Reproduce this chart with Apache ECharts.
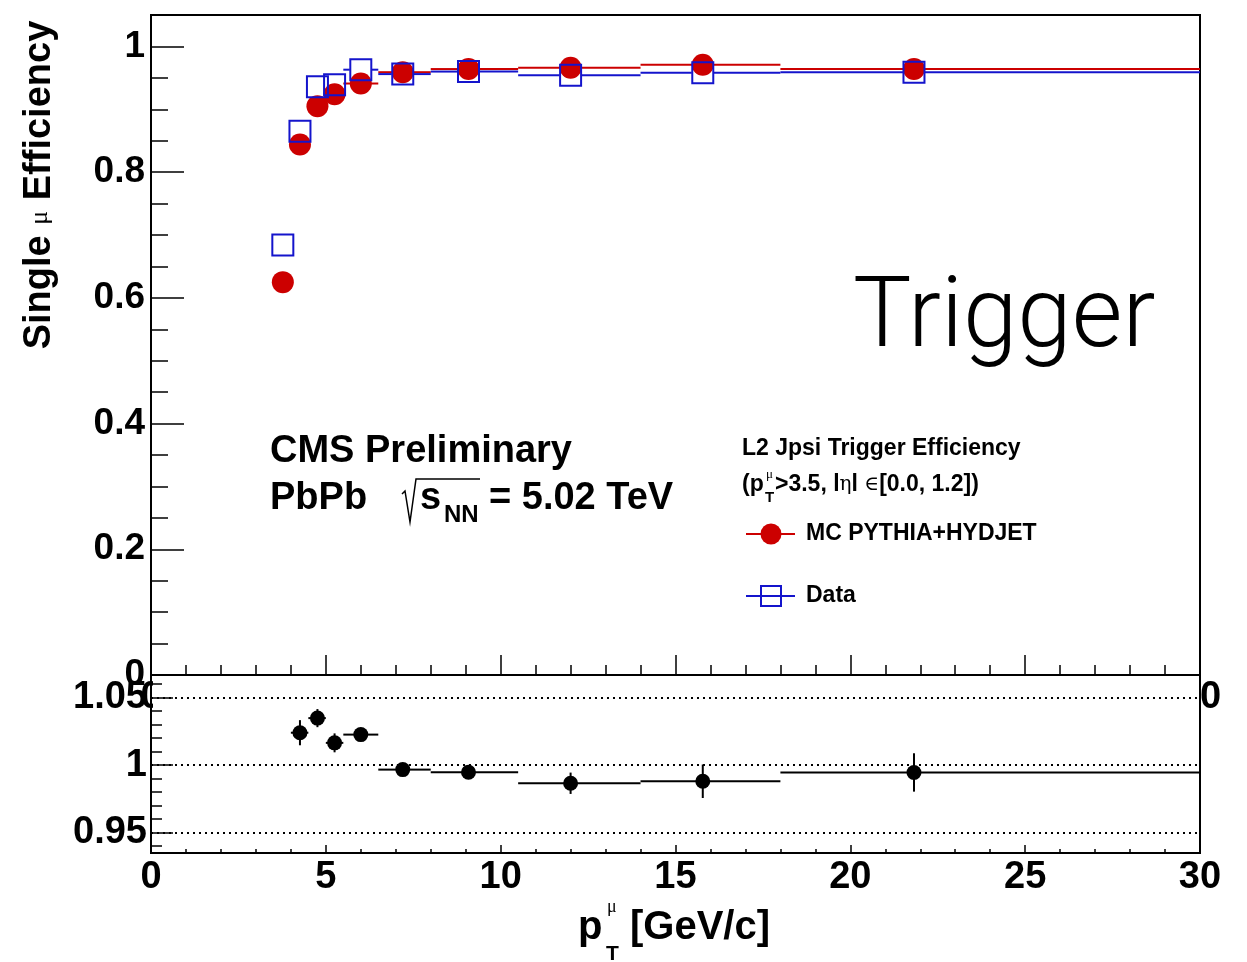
<!DOCTYPE html>
<html><head><meta charset="utf-8">
<script src="https://cdn.jsdelivr.net/npm/echarts@6/dist/echarts.min.js"></script>
<style>html,body{margin:0;padding:0;background:#fff}#c{width:1247px;height:962px}</style>
</head><body><div id="c"></div>
<script>
// ---- data ----
const ptMean   = [3.77, 4.26, 4.76, 5.25, 6.0, 7.2, 9.08, 12.0, 15.78, 21.82];
const binLo    = [3.5, 4.0, 4.5, 5.0, 5.5, 6.5, 8.0, 10.5, 14.0, 18.0];
const binHi    = [4.0, 4.5, 5.0, 5.5, 6.5, 8.0, 10.5, 14.0, 18.0, 30.0];
const effMC    = [0.625, 0.844, 0.905, 0.924, 0.941, 0.959, 0.964, 0.966, 0.971, 0.964];
const effData  = [0.684, 0.865, 0.936, 0.939, 0.963, 0.956, 0.960, 0.954, 0.958, 0.959];
const ratio    = [null, 1.024, 1.0348, 1.0165, 1.0226, 0.9967, 0.9947, 0.9866, 0.9881, 0.9946];
const ratioErr = [null, 0.0093, 0.0067, 0.007, 0.004, 0.003, 0.003, 0.0079, 0.0124, 0.0142];
const effTicks   = [0, 0.2, 0.4, 0.6, 0.8, 1];
const ratioTicks = [0.95, 1, 1.05];
const ptTicks    = [0, 5, 10, 15, 20, 25, 30];

const RED = '#cc0000', BLUE = '#1414cc', BLACK = '#000';
const FONT = 'Liberation Sans';

function tickFmt(list) {
  return function (v) {
    for (const t of list) if (Math.abs(v - t) < 1e-6) return String(t);
    return '';
  };
}

function hbar(color, gap, lw, withV) {
  return function (params, api) {
    const x = api.value(0), lo = api.value(1), hi = api.value(2), y = api.value(3);
    const pc = api.coord([x, y]), pl = api.coord([lo, y]), ph = api.coord([hi, y]);
    const st = { stroke: color, lineWidth: lw };
    const ch = [];
    if (pc[0] - gap > pl[0]) ch.push({ type: 'line', shape: { x1: pl[0], y1: pc[1], x2: pc[0] - gap, y2: pc[1] }, style: st });
    if (ph[0] > pc[0] + gap) ch.push({ type: 'line', shape: { x1: pc[0] + gap, y1: pc[1], x2: ph[0], y2: pc[1] }, style: st });
    if (withV) {
      const e = api.value(4);
      const a = api.coord([x, y - e]), b = api.coord([x, y + e]);
      ch.push({ type: 'line', shape: { x1: a[0], y1: a[1], x2: b[0], y2: b[1] }, style: st });
    }
    return { type: 'group', children: ch };
  };
}

const mcBars = ptMean.map((p, i) => [p, binLo[i], binHi[i], effMC[i]]);
const dataBars = ptMean.map((p, i) => [p, binLo[i], binHi[i], effData[i]]);
const ratioBars = ptMean.map((p, i) => [p, binLo[i], binHi[i], ratio[i], ratioErr[i]]).filter(d => d[3] != null);

const labelStyle = (size, margin) => ({ fontFamily: FONT, fontWeight: 'bold', fontSize: size, color: BLACK, margin: margin });

const chart = echarts.init(document.getElementById('c'), null, { renderer: 'canvas' });
chart.setOption({
  animation: false,
  backgroundColor: '#fff',
  grid: [
    { left: 151, top: 15, width: 1049, height: 660, show: true, borderColor: BLACK, borderWidth: 2, backgroundColor: 'transparent', containLabel: false, outerBoundsMode: 'none' },
    { left: 151, top: 675, width: 1049, height: 178, show: true, borderColor: BLACK, borderWidth: 2, backgroundColor: 'transparent', containLabel: false, outerBoundsMode: 'none', z: 3 }
  ],
  xAxis: [
    { gridIndex: 0, type: 'value', min: 0, max: 30, interval: 5, z: 0,
      axisLine: { show: true, lineStyle: { color: BLACK, width: 2 } },
      axisTick: { show: true, inside: true, length: 20, lineStyle: { color: BLACK, width: 1.5 } },
      minorTick: { show: true, splitNumber: 5, length: 10, lineStyle: { color: BLACK, width: 1.5 } },
      splitLine: { show: false },
      axisLabel: Object.assign(labelStyle(38, 4), { showMinLabel: true, showMaxLabel: true, formatter: tickFmt(ptTicks) }) },
    { gridIndex: 1, type: 'value', min: 0, max: 30, interval: 5, z: 3,
      axisLine: { show: true, lineStyle: { color: BLACK, width: 2 } },
      axisTick: { show: true, inside: true, length: 8, lineStyle: { color: BLACK, width: 1.5 } },
      minorTick: { show: true, splitNumber: 5, length: 4, lineStyle: { color: BLACK, width: 1.5 } },
      splitLine: { show: false },
      axisLabel: Object.assign(labelStyle(38, 6), { showMinLabel: true, showMaxLabel: true, formatter: tickFmt(ptTicks) }) }
  ],
  yAxis: [
    { gridIndex: 0, type: 'value', min: 0, max: 1.05, interval: 0.2, z: 0,
      axisLine: { show: true, lineStyle: { color: BLACK, width: 2 } },
      axisTick: { show: true, inside: true, length: 33, lineStyle: { color: BLACK, width: 1.5 } },
      minorTick: { show: true, splitNumber: 4, length: 17, lineStyle: { color: BLACK, width: 1.5 } },
      splitLine: { show: false },
      axisLabel: Object.assign(labelStyle(37, 6), { showMinLabel: true, formatter: tickFmt(effTicks) }) },
    { gridIndex: 1, type: 'value', min: 0.935, max: 1.0667, splitNumber: 3, z: 3,
      axisLine: { show: true, lineStyle: { color: BLACK, width: 2 } },
      axisTick: { show: true, inside: true, length: 22, lineStyle: { color: BLACK, width: 1.5 } },
      minorTick: { show: true, splitNumber: 5, length: 11, lineStyle: { color: BLACK, width: 1.5 } },
      splitLine: { show: true, lineStyle: { color: BLACK, width: 2, type: [2, 4] } },
      axisLabel: Object.assign(labelStyle(38, 4), { formatter: tickFmt(ratioTicks) }) }
  ],
  series: [
    { type: 'custom', xAxisIndex: 0, yAxisIndex: 0, z: 2, renderItem: hbar(RED, 10, 2, false), data: mcBars, encode: { x: 0, y: 3 } },
    { type: 'scatter', xAxisIndex: 0, yAxisIndex: 0, z: 3, symbol: 'circle', symbolSize: 22,
      itemStyle: { color: RED, opacity: 1 }, data: ptMean.map((p, i) => [p, effMC[i]]) },
    { type: 'custom', xAxisIndex: 0, yAxisIndex: 0, z: 4, renderItem: hbar(BLUE, 11, 2, false), data: dataBars, encode: { x: 0, y: 3 } },
    { type: 'scatter', xAxisIndex: 0, yAxisIndex: 0, z: 5, symbol: 'rect', symbolSize: 21,
      itemStyle: { color: 'rgba(0,0,0,0)', borderColor: BLUE, borderWidth: 2, opacity: 1 }, data: ptMean.map((p, i) => [p, effData[i]]) },
    { type: 'custom', xAxisIndex: 1, yAxisIndex: 1, z: 4, renderItem: hbar(BLACK, 0, 2, true), data: ratioBars, encode: { x: 0, y: 3 } },
    { type: 'scatter', xAxisIndex: 1, yAxisIndex: 1, z: 5, symbol: 'circle', symbolSize: 15,
      itemStyle: { color: BLACK, opacity: 1 }, data: ratioBars.map(d => [d[0], d[3]]) }
  ],
  graphic: [
    // lower pad background hides the upper pad's x labels (as in the original)
    { type: 'rect', z: 1, silent: true, shape: { x: 153, y: 677, width: 1046, height: 175 }, style: { fill: '#fff' } },
    // y title
    { type: 'text', x: 40, y: 185, rotation: Math.PI / 2, z: 10,
      style: { text: '{b|Single }{m|μ}{b| Efficiency}', align: 'center', verticalAlign: 'middle', fill: BLACK,
        rich: { b: { fontFamily: FONT, fontWeight: 'bold', fontSize: 38 }, m: { fontFamily: 'Liberation Serif', fontSize: 26 } } } },
    // x title
    { type: 'text', x: 578, y: 928, z: 10, style: { text: 'p', font: 'bold 40px "Liberation Sans"', fill: BLACK, align: 'left', verticalAlign: 'middle' } },
    { type: 'text', x: 607, y: 907, z: 10, style: { text: 'μ', font: '18px "Liberation Serif"', fill: BLACK, align: 'left', verticalAlign: 'middle' } },
    { type: 'text', x: 606, y: 954, z: 10, style: { text: 'T', font: 'bold 21px "Liberation Sans"', fill: BLACK, align: 'left', verticalAlign: 'middle' } },
    { type: 'text', x: 630, y: 928, z: 10, style: { text: '[GeV/c]', font: 'bold 40px "Liberation Sans"', fill: BLACK, align: 'left', verticalAlign: 'middle' } },
    // Trigger
    { type: 'text', x: 853, y: 321, z: 10, style: { text: 'Trigger', fontFamily: 'Roboto', fontWeight: 300, fontSize: 98, fill: BLACK, align: 'left', verticalAlign: 'middle' } },
    // CMS labels
    { type: 'text', x: 270, y: 452, z: 10, style: { text: 'CMS Preliminary', font: 'bold 38px "Liberation Sans"', fill: BLACK, align: 'left', verticalAlign: 'middle' } },
    { type: 'text', x: 270, y: 499, z: 10, style: { text: 'PbPb', font: 'bold 38px "Liberation Sans"', fill: BLACK, align: 'left', verticalAlign: 'middle' } },
    { type: 'polyline', z: 10, shape: { points: [[402, 494], [405, 491], [410, 522], [416, 479], [480, 479]] }, style: { stroke: BLACK, lineWidth: 1.5, fill: null } },
    { type: 'text', x: 420, y: 499, z: 10, style: { text: 's', font: 'bold 38px "Liberation Sans"', fill: BLACK, align: 'left', verticalAlign: 'middle' } },
    { type: 'text', x: 444, y: 515, z: 10, style: { text: 'NN', font: 'bold 24px "Liberation Sans"', fill: BLACK, align: 'left', verticalAlign: 'middle' } },
    { type: 'text', x: 489, y: 499, z: 10, style: { text: '= 5.02 TeV', font: 'bold 38px "Liberation Sans"', fill: BLACK, align: 'left', verticalAlign: 'middle' } },
    // legend header
    { type: 'text', x: 742, y: 449, z: 10, style: { text: 'L2 Jpsi Trigger Efficiency', font: 'bold 23px "Liberation Sans"', fill: BLACK, align: 'left', verticalAlign: 'middle' } },
    { type: 'text', x: 742, y: 485, z: 10, style: { text: '(p', font: 'bold 23px "Liberation Sans"', fill: BLACK, align: 'left', verticalAlign: 'middle' } },
    { type: 'text', x: 766, y: 475, z: 10, style: { text: 'μ', font: '13px "Liberation Serif"', fill: BLACK, align: 'left', verticalAlign: 'middle' } },
    { type: 'text', x: 765, y: 498, z: 10, style: { text: 'T', font: 'bold 15px "Liberation Sans"', fill: BLACK, align: 'left', verticalAlign: 'middle' } },
    { type: 'text', x: 775, y: 485, z: 10,
      style: { text: '{b|>3.5, l}{r|η}{b|l }{r|∈}{b|[0.0, 1.2])}', align: 'left', verticalAlign: 'middle', fill: BLACK,
        rich: { b: { fontFamily: FONT, fontWeight: 'bold', fontSize: 23 }, r: { fontFamily: 'DejaVu Serif', fontSize: 20 } } } },
    // legend entries
    { type: 'line', z: 10, shape: { x1: 746, y1: 534, x2: 795, y2: 534 }, style: { stroke: RED, lineWidth: 2 } },
    { type: 'circle', z: 11, shape: { cx: 771, cy: 534, r: 10.5 }, style: { fill: RED } },
    { type: 'text', x: 806, y: 534, z: 10, style: { text: 'MC PYTHIA+HYDJET', font: 'bold 23px "Liberation Sans"', fill: BLACK, align: 'left', verticalAlign: 'middle' } },
    { type: 'line', z: 10, shape: { x1: 746, y1: 596, x2: 795, y2: 596 }, style: { stroke: BLUE, lineWidth: 2 } },
    { type: 'rect', z: 11, shape: { x: 761, y: 586, width: 20, height: 20 }, style: { fill: null, stroke: BLUE, lineWidth: 2 } },
    { type: 'text', x: 806, y: 596, z: 10, style: { text: 'Data', font: 'bold 23px "Liberation Sans"', fill: BLACK, align: 'left', verticalAlign: 'middle' } }
  ]
});
</script>
</body></html>
